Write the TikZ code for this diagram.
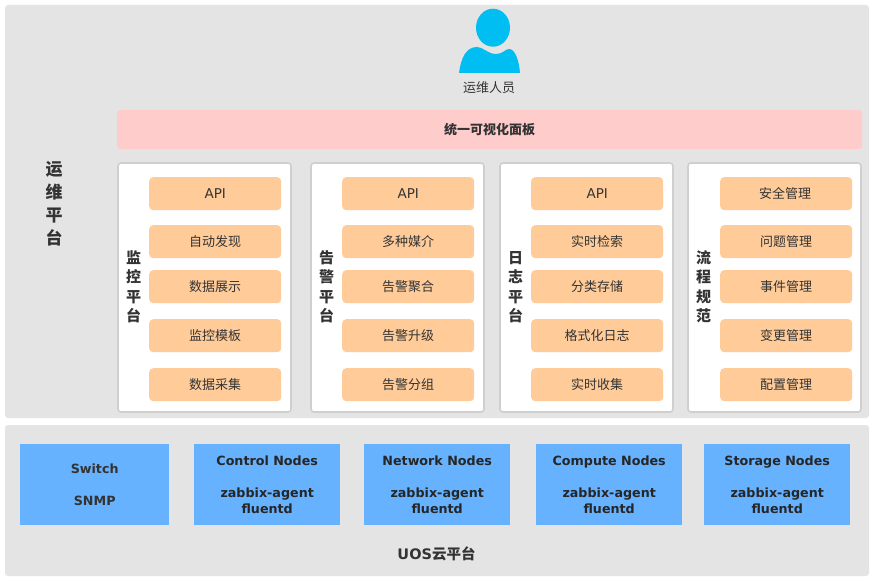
\documentclass[tikz,border=0pt]{standalone}
\usepackage{fontspec}
\setmainfont{DejaVu Sans}
\newfontfamily\cjk{Noto Sans CJK SC}
\definecolor{panelgrey}{HTML}{E4E4E4}
\definecolor{pinkbar}{HTML}{FFCCCC}
\definecolor{orangebox}{HTML}{FFCC99}
\definecolor{bluebox}{HTML}{66B2FF}
\definecolor{personblue}{HTML}{00BEF2}
\definecolor{txtdark}{HTML}{333333}
\definecolor{wborder}{HTML}{CFCFCF}
\tikzset{
  x=1pt,y=-1pt,
  panel/.style={fill=panelgrey,draw=none,rounded corners=3pt},
  whitebox/.style={fill=white,draw=wborder,line width=1.6pt,rounded corners=3pt},
  item/.style={fill=orangebox,draw=none,rounded corners=4pt,minimum width=132pt,minimum height=33pt,inner sep=0pt,anchor=north west,text=txtdark,font=\fontsize{13}{15}\selectfont\cjk},
  itemlatin/.style={item,font=\fontsize{13.5}{15}\selectfont},
  nodebox/.style={fill=bluebox,draw=none,minimum height=81pt,inner sep=0pt,anchor=north west,align=center,text=black!85,font=\fontsize{12.7}{16}\selectfont\bfseries},
  vlabel/.style={text=txtdark,align=center,inner sep=0pt,font=\fontsize{15}{19.5}\selectfont\cjk\bfseries},
}
\newcommand{\itemcol}[6]{%
  \node[itemlatin] at (#1,177) {#2\hspace{3pt}};
  \node[item] at (#1,225) {#3\hspace{5pt}};
  \node[item] at (#1,270) {#4\hspace{5pt}};
  \node[item] at (#1,319) {#5\hspace{5pt}};
  \node[item] at (#1,368) {#6\hspace{5pt}};
}
\begin{document}
\begin{tikzpicture}
\useasboundingbox (0,0) rectangle (870,583);
\fill[white] (0,0) rectangle (870,583);
\path[panel] (5,5) rectangle (869,418);
\path[panel] (5,425) rectangle (869,576);
% person
\fill[personblue] (493,27.7) ellipse [x radius=17, y radius=19];
\fill[personblue] (459,73) .. controls (461,58) and (466,47) .. (477,47)
  .. controls (483,47) and (488,54) .. (496,54)
  .. controls (503,54) and (505,49) .. (509,49)
  .. controls (515,49) and (519,60) .. (520,73) -- cycle;
\node[inner sep=0pt,text=txtdark,font=\fontsize{13}{15}\selectfont\cjk] (op) at (489,88) {运维人员};
\node[fill=pinkbar,rounded corners=3pt,minimum width=745pt,minimum height=39pt,inner sep=0pt,anchor=north west,text=txtdark,font=\fontsize{13}{15}\selectfont\cjk\bfseries] (bar) at (117,110) {统一可视化面板\hspace{5pt}};
\node[vlabel,font=\fontsize{17}{23}\selectfont\cjk\bfseries] (ops) at (54,203.5) {运\\维\\平\\台};
% white panels
\draw[whitebox] (118,163) rectangle (291,412);
\draw[whitebox] (311,163) rectangle (484,412);
\draw[whitebox] (500,163) rectangle (673,412);
\draw[whitebox] (688,163) rectangle (861,412);
\node[vlabel] (l1) at (133.5,287) {监\\控\\平\\台};
\node[vlabel] (l2) at (326.5,287) {告\\警\\平\\台};
\node[vlabel] (l3) at (515.5,287) {日\\志\\平\\台};
\node[vlabel] (l4) at (703.5,287) {流\\程\\规\\范};
\itemcol{149}{API}{自动发现}{数据展示}{监控模板}{数据采集}
\itemcol{342}{API}{多种媒介}{告警聚合}{告警升级}{告警分组}
\itemcol{531}{API}{实时检索}{分类存储}{格式化日志}{实时收集}
\itemcol{720}{\cjk\fontsize{13}{15}\selectfont 安全管理\hspace{2pt}}{问题管理}{事件管理}{变更管理}{配置管理}
% bottom nodes
\node[nodebox,minimum width=149pt,text=txtdark] (sw) at (20,444) {Switch\\[16pt]SNMP};
\node[nodebox,minimum width=146pt] (cn) at (194,444) {Control Nodes\\[16pt]zabbix-agent\\fluentd};
\node[nodebox,minimum width=146pt] (nn) at (364,444) {Network Nodes\\[16pt]zabbix-agent\\fluentd};
\node[nodebox,minimum width=146pt] (pn) at (536,444) {Compute Nodes\\[16pt]zabbix-agent\\fluentd};
\node[nodebox,minimum width=146pt] (sn) at (704,444) {Storage Nodes\\[16pt]zabbix-agent\\fluentd};
\node[inner sep=0pt,text=txtdark,font=\fontsize{14.5}{17}\selectfont\bfseries] (uos) at (436.5,554) {UOS{\cjk 云平台}};
\end{tikzpicture}
\end{document}
